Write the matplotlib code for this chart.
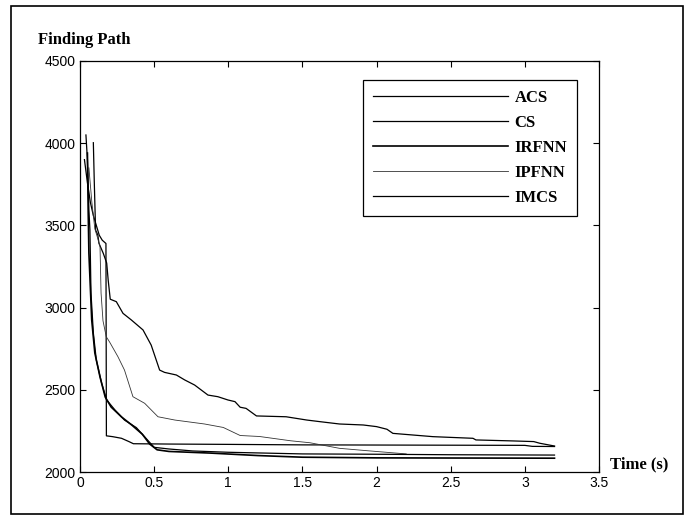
import matplotlib
matplotlib.use("Agg")
import matplotlib.pyplot as plt
from matplotlib.patches import Rectangle

# values (time in s, path length)
acs_t = [0.09, 0.096, 0.105, 0.12, 0.128, 0.157, 0.18, 0.19, 0.204, 0.245, 0.29, 0.346,
         0.425, 0.48, 0.537, 0.57, 0.65, 0.706, 0.773, 0.863, 0.93, 0.998, 1.045, 1.08,
         1.12, 1.19, 1.39, 1.46, 1.53, 1.62, 1.75, 1.91, 2.0, 2.07, 2.11, 2.38, 2.65,
         2.67, 2.92, 3.06, 3.10, 3.20]
acs_v = [4003, 3776, 3472, 3442, 3391, 3330, 3271, 3168, 3051, 3036, 2965, 2925,
         2864, 2772, 2620, 2606, 2590, 2560, 2529, 2468, 2458, 2438, 2428, 2394,
         2387, 2341, 2336, 2326, 2316, 2306, 2292, 2286, 2276, 2260, 2235, 2215, 2205,
         2195, 2189, 2185, 2175, 2158]

cs_t = [0.03, 0.05, 0.07, 0.09, 0.11, 0.13, 0.15, 0.175, 0.178, 0.22, 0.28, 0.33, 0.36,
        0.6, 1.0, 1.5, 2.0, 2.5, 3.0, 3.05, 3.2]
cs_v = [3900, 3760, 3640, 3560, 3500, 3440, 3410, 3390, 2220, 2215, 2205, 2185, 2172,
        2170, 2168, 2165, 2164, 2163, 2162, 2156, 2155]

irfnn_t = [0.05, 0.055, 0.06, 0.079, 0.1, 0.135, 0.17, 0.21, 0.28, 0.35, 0.42, 0.47,
           0.52, 0.6, 0.88, 1.2, 1.5, 2.0, 2.5, 3.2]
irfnn_v = [3940, 3600, 3332, 2925, 2724, 2578, 2456, 2395, 2335, 2285, 2230, 2170,
           2135, 2125, 2115, 2100, 2090, 2086, 2085, 2084]

ipfnn_t = [0.06, 0.08, 0.10, 0.12, 0.135, 0.142, 0.155, 0.177, 0.2, 0.256, 0.3, 0.357,
           0.436, 0.526, 0.64, 0.84, 0.966, 1.08, 1.21, 1.42, 1.55, 1.75, 1.93, 2.2]
ipfnn_v = [3850, 3640, 3480, 3420, 3370, 3089, 2920, 2823, 2790, 2701, 2620, 2458,
           2418, 2336, 2316, 2292, 2271, 2222, 2216, 2190, 2178, 2144, 2130, 2110]

imcs_t = [0.04, 0.05, 0.056, 0.06, 0.067, 0.074, 0.09, 0.11, 0.146, 0.18, 0.236, 0.30,
          0.38, 0.45, 0.5, 0.6, 0.76, 1.0, 1.5, 2.0, 2.5, 3.2]
imcs_v = [4050, 3900, 3735, 3594, 3472, 3089, 2845, 2681, 2540, 2438, 2377, 2316,
          2270, 2200, 2150, 2140, 2128, 2120, 2110, 2108, 2105, 2103]

x_ticks = [0, 0.5, 1, 1.5, 2, 2.5, 3, 3.5]
x_labels = ["0", "0.5", "1", "1.5", "2", "2.5", "3", "3.5"]
y_ticks = [2000, 2500, 3000, 3500, 4000, 4500]

serif_bold = {"family": "Liberation Serif", "weight": "bold"}

fig = plt.figure(figsize=(6.86, 5.16), dpi=100)
ax = fig.add_axes([80 / 686, 1 - 472 / 516, 519 / 686, 411 / 516])

ax.plot(acs_t, acs_v, color="black", lw=0.9, label="ACS")
ax.plot(cs_t, cs_v, color="black", lw=0.9, label="CS")
ax.plot(irfnn_t, irfnn_v, color="black", lw=1.2, label="IRFNN")
ax.plot(ipfnn_t, ipfnn_v, color="#333333", lw=0.6, label="IPFNN")
ax.plot(imcs_t, imcs_v, color="black", lw=0.9, label="IMCS")

ax.set_xlim(0, 3.5)
ax.set_ylim(2000, 4500)
ax.set_xticks(x_ticks)
ax.set_xticklabels(x_labels)
ax.set_yticks(y_ticks)
ax.tick_params(direction="in", length=4, width=0.8, top=True, right=True,
               labelsize=10, pad=3)
for lab in ax.get_xticklabels() + ax.get_yticklabels():
    lab.set_family("Liberation Sans")
for sp in ax.spines.values():
    sp.set_linewidth(0.9)

leg = ax.legend(loc="upper left", bbox_to_anchor=(363 / 686, 1 - 80 / 516),
                bbox_transform=fig.transFigure, frameon=True, fancybox=False,
                edgecolor="black", framealpha=1, prop={"family": "Liberation Serif",
                "weight": "bold", "size": 12}, handlelength=8.1, handletextpad=0.42,
                labelspacing=0.55, borderpad=0.57, borderaxespad=0)
leg.get_frame().set_linewidth(0.9)

fig.text(38 / 686, 1 - 40 / 516, "Finding Path", fontdict=serif_bold, fontsize=12,
         va="center", ha="left")
fig.text(610 / 686, 1 - 464 / 516, "Time (s)", fontdict=serif_bold, fontsize=12,
         va="center", ha="left")

# scanned page frame
fig.patches.append(Rectangle((11 / 686, 2 / 516), 672 / 686, 508 / 516,
                             transform=fig.transFigure, fill=False,
                             edgecolor="black", lw=1.2))

fig.savefig("out.png", dpi=100)
